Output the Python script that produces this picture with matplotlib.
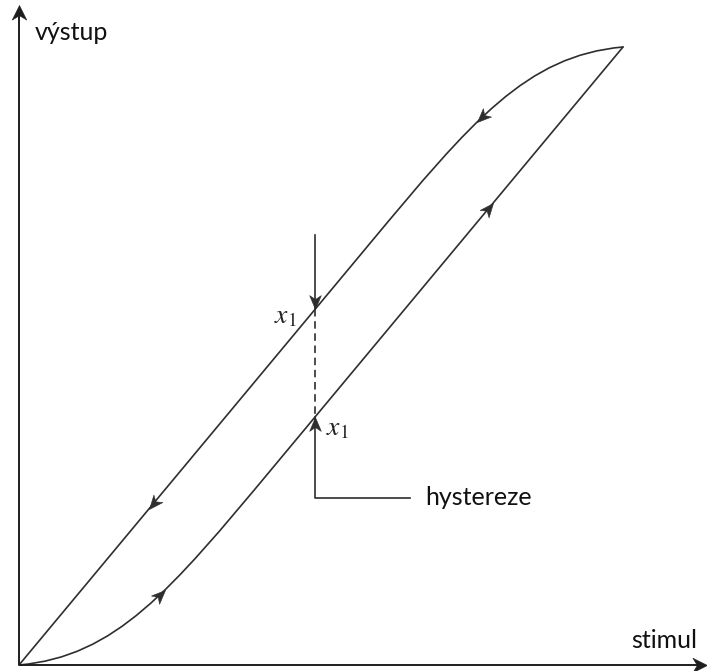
import numpy as np
import matplotlib.pyplot as plt
from matplotlib.path import Path
from matplotlib.patches import PathPatch
from matplotlib.markers import MarkerStyle
from matplotlib.transforms import Affine2D

# hysteresis loop (stimulus, output), scaled so the turning point is (1, 1)
# each branch = cubic bezier (start, ctrl, ctrl, join) followed by a straight run
rise_curve = np.array([[0.0, 0.0], [0.16, 0.014], [0.25, 0.1195], [0.42, 0.319]])
rise_end = np.array([1.0, 1.0])
fall_curve = np.array([[1.0, 1.0], [0.84, 0.986], [0.75, 0.8805], [0.58, 0.681]])
fall_end = np.array([0.0, 0.0])

x1 = 0.49          # stimulus where the two outputs are compared
x1_top = 0.696     # start of the incoming arrow
leader_y = 0.270   # level of the "hystereze" leader
leader_x = 0.647

y_label = "výstup"
x_label = "stimul"
note = "hystereze"
x1_label = r"$x_1$"

LINE = "#2e2e2e"
AXIS = "#1e1e1e"
FONT = ["Lato", "DejaVu Sans"]
plt.rcParams["mathtext.fontset"] = "stix"

# stealth style arrow heads, tip at (0, 0) pointing along +x
HEAD = Path([(0, 0), (-1, 0.42), (-0.72, 0), (-1, -0.42), (0, 0)],
            [Path.MOVETO, Path.LINETO, Path.LINETO, Path.LINETO, Path.CLOSEPOLY])
AXIS_HEAD = Path([(0, 0), (-1, 0.5), (-0.7, 0), (-1, -0.5), (0, 0)],
                 [Path.MOVETO, Path.LINETO, Path.LINETO, Path.LINETO, Path.CLOSEPOLY])


def bezier(p, t):
    return ((1 - t) ** 3 * p[0] + 3 * t * (1 - t) ** 2 * p[1]
            + 3 * t ** 2 * (1 - t) * p[2] + t ** 3 * p[3])


def bezier_d(p, t):
    return (3 * (1 - t) ** 2 * (p[1] - p[0]) + 6 * t * (1 - t) * (p[2] - p[1])
            + 3 * t ** 2 * (p[3] - p[2]))


def head(ax, pt, direction, shape=HEAD, size=20, color=LINE):
    # rotate the marker to follow the line as it appears on screen
    a = ax.transData.transform(pt)
    b = ax.transData.transform(np.asarray(pt) + 1e-3 * np.asarray(direction))
    ang = np.degrees(np.arctan2(b[1] - a[1], b[0] - a[0]))
    m = MarkerStyle(shape, transform=Affine2D().rotate_deg(ang))
    ax.plot(pt[0], pt[1], marker=m, ms=size, color=color, mew=0.4, zorder=5)


def branch(ax, curve, end):
    verts = [*curve, end]
    codes = [Path.MOVETO, Path.CURVE4, Path.CURVE4, Path.CURVE4, Path.LINETO]
    ax.add_patch(PathPatch(Path(verts, codes), fill=False, ec=LINE, lw=1.2,
                           capstyle="round", joinstyle="round"))
    # one head on the bend, one on the straight part
    head(ax, bezier(curve, 0.59), bezier_d(curve, 0.59))
    head(ax, curve[3] + 0.63 * (end - curve[3]), end - curve[3])


def y_on(a, b, x):
    return a[1] + (b[1] - a[1]) / (b[0] - a[0]) * (x - a[0])


fig = plt.figure(figsize=(7.07, 6.71), dpi=100)
ax = fig.add_axes([0, 0, 1, 1])
ax.set_xlim(-19 / 604, 688 / 604)
ax.set_ylim(-6 / 618, 665 / 618)
ax.axis("off")

# axes with arrows
ax.plot([0, 0], [0, 1.060], color=AXIS, lw=1.4, solid_capstyle="butt")
ax.plot([0, 1.133], [0, 0], color=AXIS, lw=1.4, solid_capstyle="butt")
head(ax, (0, 1.068), (0, 1), AXIS_HEAD, size=21, color=AXIS)
head(ax, (1.139, 0), (1, 0), AXIS_HEAD, size=21, color=AXIS)

branch(ax, rise_curve, rise_end)
branch(ax, fall_curve, fall_end)

# outputs of both branches at x1
y_hi = y_on(fall_curve[3], fall_end, x1)
y_lo = y_on(rise_curve[3], rise_end, x1)

ax.plot([x1, x1], [x1_top, y_hi], color=LINE, lw=1.2)
head(ax, (x1, y_hi), (0, -1))
ax.plot([x1, x1], [y_hi, y_lo], color=LINE, lw=1.2, dashes=(4.5, 2.8))
ax.plot([leader_x, x1, x1], [leader_y, leader_y, y_lo], color=LINE, lw=1.2)
head(ax, (x1, y_lo), (0, 1))

ax.text(0.4600, 0.566, x1_label, fontsize=20, ha="right", va="center", color="#222222")
ax.text(0.508, 0.384, x1_label, fontsize=20, ha="left", va="center", color="#222222")

ax.text(0.0265, 1.011, y_label, fontsize=18, family=FONT, ha="left", va="baseline", color="#111111")
ax.text(1.123, 0.0275, x_label, fontsize=18, family=FONT, ha="right", va="baseline", color="#111111")
ax.text(0.672, 0.259, note, fontsize=18, family=FONT, ha="left", va="baseline", color="#111111")

fig.savefig("out.png", dpi=100)
